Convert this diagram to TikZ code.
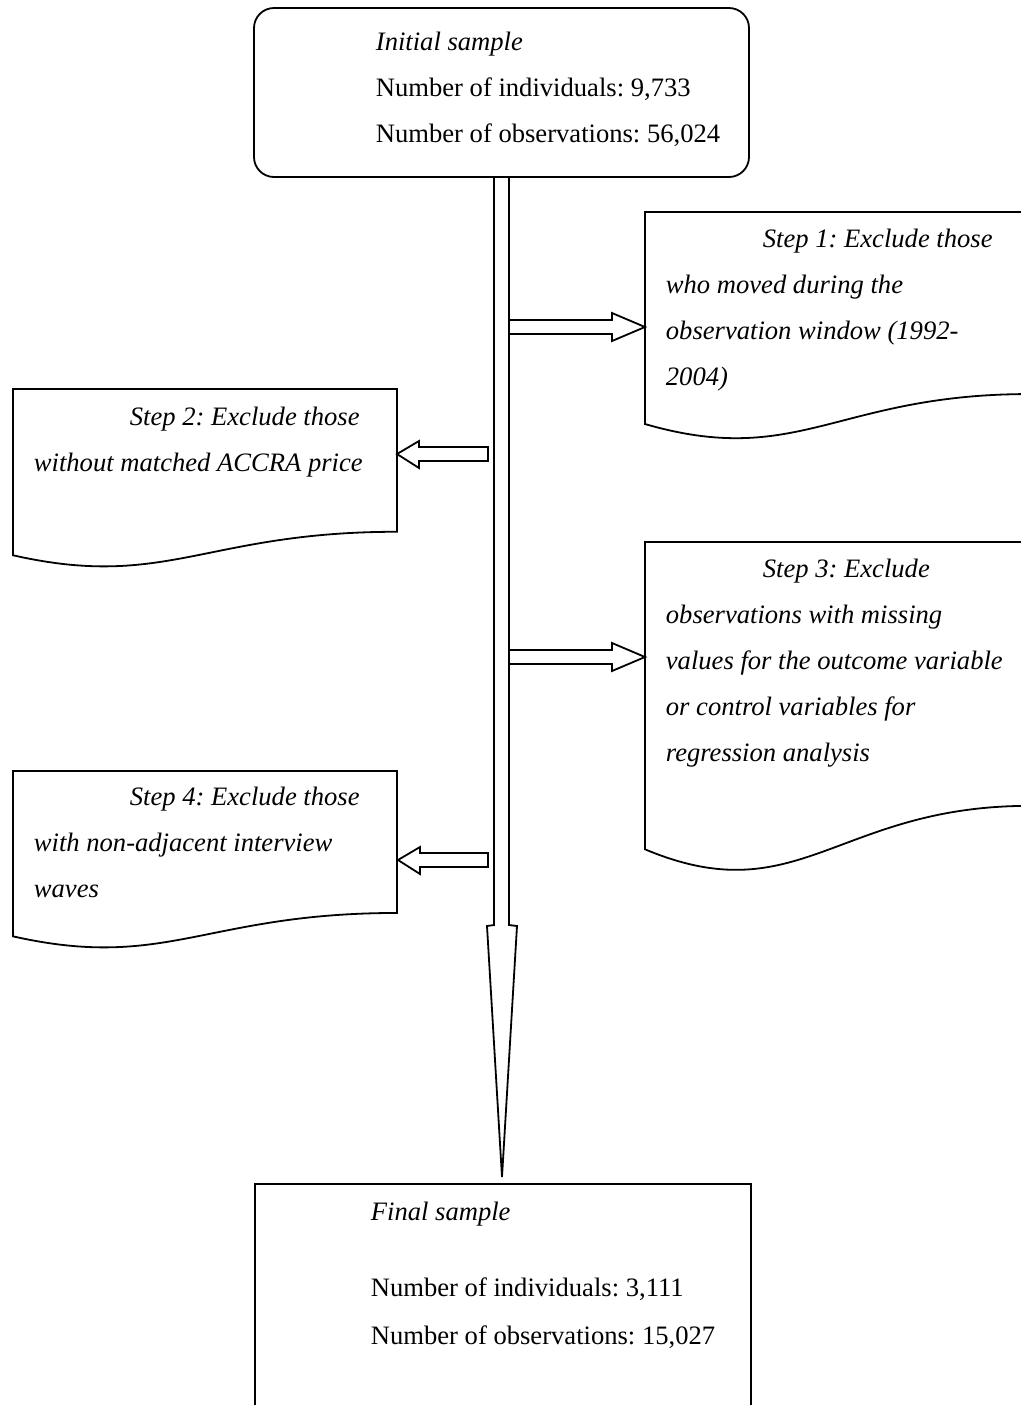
\documentclass[tikz,border=0pt]{standalone}
\usepackage{fontspec}
\setmainfont{Liberation Serif}
\usetikzlibrary{calc}
\frenchspacing

% document shape: left, top, width, height
\newcommand\docbox[4]{%
  \draw (#1,{#2+0.934*#4}) -- (#1,#2) -- ({#1+#3},#2) -- ({#1+#3},{#2+0.802*#4})
    .. controls ({#1+0.5*#3},{#2+0.802*#4}) and ({#1+0.4*#3},{#2+1.13*#4}) .. (#1,{#2+0.934*#4}) -- cycle;}
% block arrows between named points
\newcommand\rightfat[2]{%
  \draw ($(#1)+(0,-7)$) -- ($(#2)+(-33,-7)$) -- ($(#2)+(-33,-14)$) -- (#2)
    -- ($(#2)+(-33,14)$) -- ($(#2)+(-33,7)$) -- ($(#1)+(0,7)$);}
\newcommand\leftfat[2]{%
  \draw ($(#1)+(0,-7)$) -- ($(#2)+(22,-7)$) -- ($(#2)+(22,-13)$) -- (#2)
    -- ($(#2)+(22,14)$) -- ($(#2)+(22,7)$) -- ($(#1)+(0,7)$) -- cycle;}

\begin{document}
\begin{tikzpicture}[x=0.5pt,y=-0.5pt,line width=0.9pt,line join=miter,
  txt/.style={anchor=base west,align=left,inner sep=0pt,font=\fontsize{13.3pt}{23pt}\selectfont},
  steptxt/.style={txt,font=\fontsize{13.3pt}{23pt}\selectfont\itshape}]
\fill[white] (0,0) rectangle (1021,1405);
\useasboundingbox (0,0) rectangle (1021,1405);
\clip (0,0) rectangle (1021,1405);

% main arrow
\draw (494,177) -- (494,925) -- (487,926) -- (502,1177) coordinate (tip)
  -- (517,926) -- (509,925) -- (509,177);

% boxes
\draw[rounded corners=10pt] (254,8) rectangle (749,177);
\draw (255,1184) rectangle (751,1430);
\docbox{645}{212}{384}{227}
\docbox{13}{389}{384}{178}
\docbox{645}{542}{384}{329}
\docbox{13}{771}{384}{177}

% text (placed by the baseline of the last line)
\node[txt] (initial) at (375,142) {\textit{Initial sample}\\Number of individuals: 9,733\\Number of observations: 56,024};
\node[txt] (final) at (370,1344) {\textit{Final sample}\\[15pt]Number of individuals: 3,111\\[1pt]Number of observations: 15,027};
\node[steptxt] (step1) at (665,385) {\hspace*{48.5pt}Step 1: Exclude those\\who moved during the\\observation window (1992-\\2004)};
\node[steptxt] (step2) at (33,471) {\hspace*{48pt}Step 2: Exclude those\\without matched ACCRA price};
\node[steptxt] (step3) at (665,761) {\hspace*{48.5pt}Step 3: Exclude\\observations with missing\\values for the outcome variable\\or control variables for\\regression analysis};
\node[steptxt] (step4) at (33,897) {\hspace*{48pt}Step 4: Exclude those\\with non-adjacent interview\\waves};

% arrows to the steps
\coordinate (out1) at (510,327); \coordinate (in1) at (645,327);
\coordinate (out2) at (488,454); \coordinate (in2) at (397,454);
\coordinate (out3) at (510,657); \coordinate (in3) at (645,657);
\coordinate (out4) at (488,860); \coordinate (in4) at (398,860);
\rightfat{out1}{in1}
\leftfat{out2}{in2}
\rightfat{out3}{in3}
\leftfat{out4}{in4}
\end{tikzpicture}
\end{document}
